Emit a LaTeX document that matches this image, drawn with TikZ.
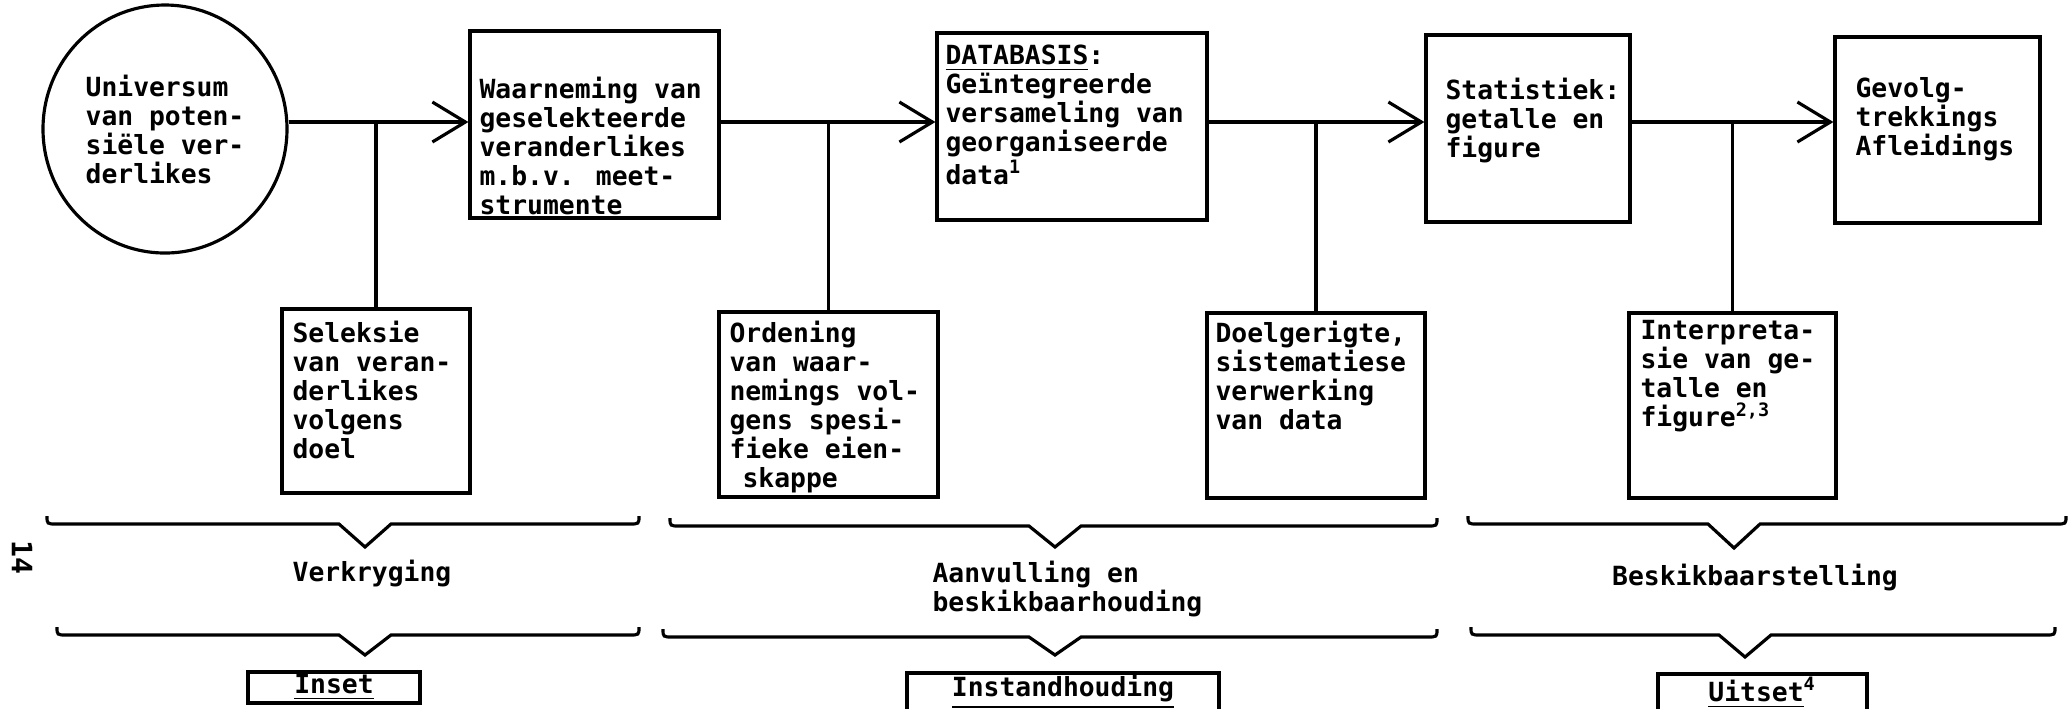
\documentclass[tikz,border=0pt]{standalone}
\usepackage{fontspec}
\usepackage{tikz}
\usetikzlibrary{shapes.geometric, arrows.meta, positioning}
\newfontfamily\typefont{DejaVu Sans Mono}
\newcommand{\diagfont}{\typefont\bfseries\fontsize{7.5pt}{8.25pt}\selectfont}

\begin{document}
\begin{tikzpicture}[
    x=0.1mm, y=-0.1mm,
    font=\diagfont,
    line width=0.9pt,
    box/.style={rectangle, draw, inner sep=0pt},
    blob/.style={ellipse, draw, inner sep=0pt, align=left},
    txt/.style={align=left, anchor=north west, inner sep=0pt},
    tag/.style={box, minimum height=3.1mm},
    arrow/.style={-{Straight Barb[length=3.3mm, width=4mm]}}
]
\useasboundingbox (0,0) rectangle (2071,708);

% Top row
\node[blob, minimum width=24.4mm, minimum height=24.8mm] (univ) at (165,129) {Universum\\van poten-\\siële ver-\\derlikes};

\node[box, minimum width=24.9mm, minimum height=18.7mm] (obs) at (594.5,124.5) {};
\node[txt] (obsT) at (478,75) {Waarneming van\\geselekteerde\\veranderlikes\\m.b.v. meet-\\\underline{strumente}};

\node[box, minimum width=27mm, minimum height=18.7mm] (db) at (1072,126.5) {};
\node[txt] (dbT) at (944,43) {\underline{DATABASIS}:\\Geïntegreerde\\versameling van\\georganiseerde\\data\textsuperscript{1}};

\node[box, minimum width=20.4mm, minimum height=18.7mm] (stat) at (1528,128.5) {};
\node[txt] (statT) at (1444,76) {Statistiek:\\getalle en\\figure};

\node[box, minimum width=20.5mm, minimum height=18.6mm] (concl) at (1937.5,130) {};
\node[txt] (conclT) at (1854,76) {Gevolg-\\trekkings\\Afleidings};

% Bottom row
\node[box, minimum width=18.8mm, minimum height=18.4mm] (sel) at (376,401) {};
\node[txt] (selT) at (291,319) {Seleksie\\van veran-\\derlikes\\volgens\\doel};

\node[box, minimum width=21.9mm, minimum height=18.5mm] (ord) at (828.5,404.5) {};
\node[txt] (ordT) at (728,319) {Ordening\\van waar-\\nemings vol-\\gens spesi-\\fieke eien-\\\hspace{1.3mm}\underline{skappe}};

\node[box, minimum width=21.8mm, minimum height=18.5mm] (proc) at (1316,405.5) {};
\node[txt] (procT) at (1214,319) {Doelgerigte,\\sistematiese\\verwerking\\van data};

\node[box, minimum width=20.7mm, minimum height=18.5mm] (interp) at (1732.5,405.5) {};
\node[txt] (interpT) at (1639,319) {Interpreta-\\sie van ge-\\talle en\\figure\textsuperscript{2,3}};

% Arrows and branches
\coordinate (lvl) at (0,122);
\draw[arrow] (univ.east |- lvl) -- (obs.west |- lvl);
\draw[arrow] (obs.east |- lvl) -- (db.west |- lvl);
\draw[arrow] (db.east |- lvl) -- (stat.west |- lvl);
\draw[arrow] (stat.east |- lvl) -- (concl.west |- lvl);
\draw (sel.north) -- (sel.north |- lvl);
\draw (ord.north) -- (ord.north |- lvl);
\draw (proc.north) -- (proc.north |- lvl);
\draw (interp.north) -- (interp.north |- lvl);

% Braces
\foreach \xa/\xb/\xt/\yb/\yt in {47/639/365/524/547, 670/1437/1055/526/547, 1468/2066/1734/524/548,
                                 57/639/365/635/655, 663/1437/1055/637/655, 1471/2055/1745/635/657}
  \draw (\xa,\yb-8) .. controls (\xa,\yb) .. (\xa+10,\yb) -- (\xt-26,\yb) -- (\xt,\yt)
        -- (\xt+26,\yb) -- (\xb-10,\yb) .. controls (\xb,\yb) .. (\xb,\yb-8);

% Phase labels
\node (acq) at (372,573) {Verkryging};
\node[txt] (maint) at (931,559) {Aanvulling en\\beskikbaarhouding};
\node (avail) at (1755,577) {Beskikbaarstelling};

\node[tag, minimum width=17.2mm] (inset) at (334,687.5) {\underline{Inset}};
\node[tag, minimum width=31.2mm, minimum height=3.8mm] (instand) at (1063,692) {\underline{Instandhouding}};
\node[tag, minimum width=20.9mm, minimum height=3.8mm] (uitset) at (1762.5,693) {\underline{Uitset}\textsuperscript{4}};

% Page number
\node[rotate=-90, font=\typefont\bfseries\fontsize{8pt}{9pt}\selectfont] (page) at (22,557) {14};

\end{tikzpicture}
\end{document}
